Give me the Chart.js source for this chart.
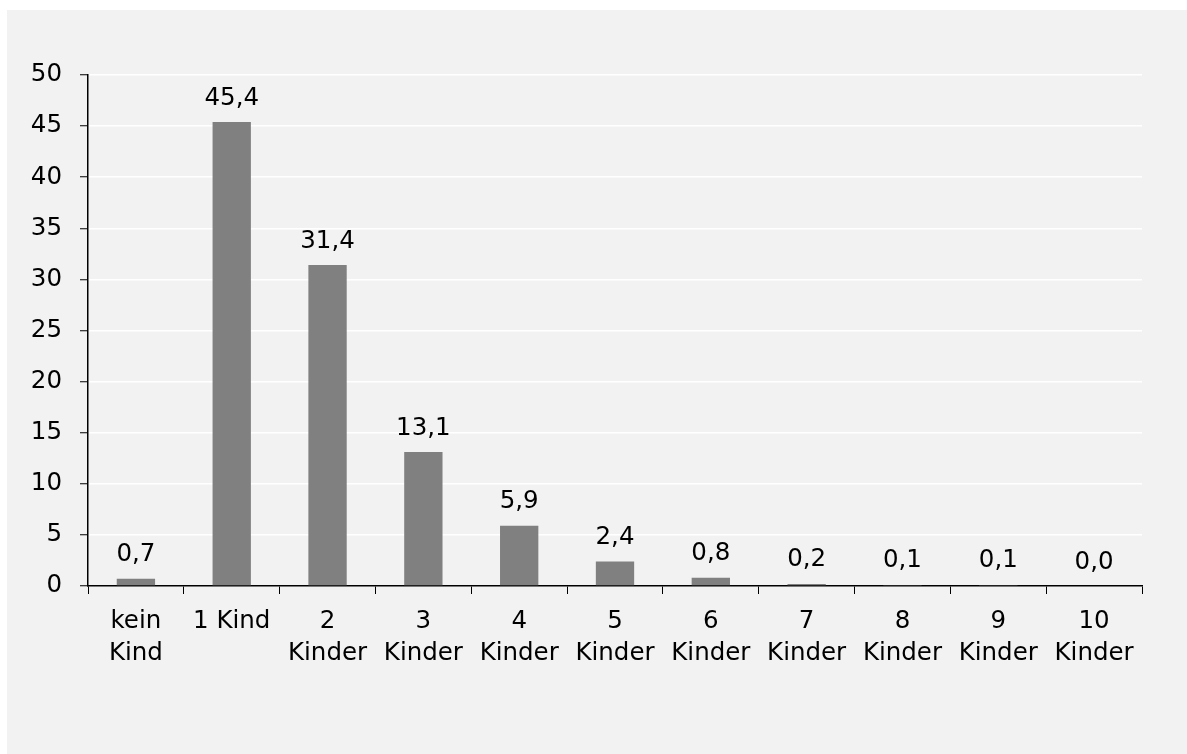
<!DOCTYPE html>
<html>
<head>
<meta charset="utf-8">
<script src="https://cdn.jsdelivr.net/npm/chart.js@4.4.0/dist/chart.umd.min.js"></script>
<style>
  html, body { margin: 0; padding: 0; background: #ffffff; }
  #box { position: absolute; left: 7px; top: 10px; width: 1180px; height: 744px; background: #f2f2f2; }
  canvas { display: block; }
</style>
</head>
<body>
<div id="box"><canvas id="c" width="1180" height="744"></canvas></div>
<script>
const categories = [
  ["kein", "Kind"], "1 Kind", ["2", "Kinder"], ["3", "Kinder"], ["4", "Kinder"],
  ["5", "Kinder"], ["6", "Kinder"], ["7", "Kinder"], ["8", "Kinder"], ["9", "Kinder"], ["10", "Kinder"]
];
const values = [0.7, 45.4, 31.4, 13.1, 5.9, 2.4, 0.8, 0.2, 0.1, 0.1, 0.0];
const yTicks = [0, 5, 10, 15, 20, 25, 30, 35, 40, 45, 50];

const FONT = "'DejaVu Sans', sans-serif";
const FSIZE = 24.5;

const valueLabels = {
  id: 'valueLabels',
  afterDatasetsDraw(chart) {
    const ctx = chart.ctx;
    const meta = chart.getDatasetMeta(0);
    ctx.save();
    ctx.font = FSIZE + "px " + FONT;
    ctx.fillStyle = '#000';
    ctx.textAlign = 'center';
    ctx.textBaseline = 'alphabetic';
    meta.data.forEach((bar, i) => {
      const txt = values[i].toFixed(1).replace('.', ',');
      ctx.fillText(txt, bar.x, bar.y - 17.5);
    });
    ctx.restore();
  }
};

new Chart(document.getElementById('c'), {
  type: 'bar',
  data: {
    labels: categories,
    datasets: [{
      data: values,
      backgroundColor: '#808080',
      borderWidth: 0,
      barPercentage: 0.4,
      categoryPercentage: 1.0
    }]
  },
  options: {
    responsive: false,
    animation: false,
    layout: { padding: { left: 0, top: 65, right: 45, bottom: 0 } },
    plugins: { legend: { display: false }, tooltip: { enabled: false } },
    scales: {
      x: {
        grid: {
          display: true, drawOnChartArea: false, drawTicks: true,
          tickLength: 8, tickColor: '#000', tickWidth: 1, offset: true
        },
        border: { display: true, color: '#000', width: 1.5 },
        ticks: {
          color: '#000', padding: 12, maxRotation: 0, autoSkip: false,
          font: { family: FONT, size: FSIZE, lineHeight: 1.3 }
        },
        afterFit(scale) { scale.height = 168; }
      },
      y: {
        min: 0, max: 50,
        afterBuildTicks(scale) { scale.ticks = yTicks.map(v => ({ value: v })); },
        grid: {
          color: (c) => (c.tick && c.tick.value === 0) ? 'rgba(0,0,0,0)' : '#ffffff',
          lineWidth: 1.5, drawTicks: true, tickLength: 8, tickColor: '#000', tickWidth: 1
        },
        border: { display: true, color: '#000', width: 1.5 },
        ticks: {
          color: '#000', padding: 18,
          font: { family: FONT, size: FSIZE },
          callback: (v) => String(v)
        },
        afterFit(scale) { scale.width = 81; }
      }
    }
  },
  plugins: [valueLabels]
});
</script>
</body>
</html>
